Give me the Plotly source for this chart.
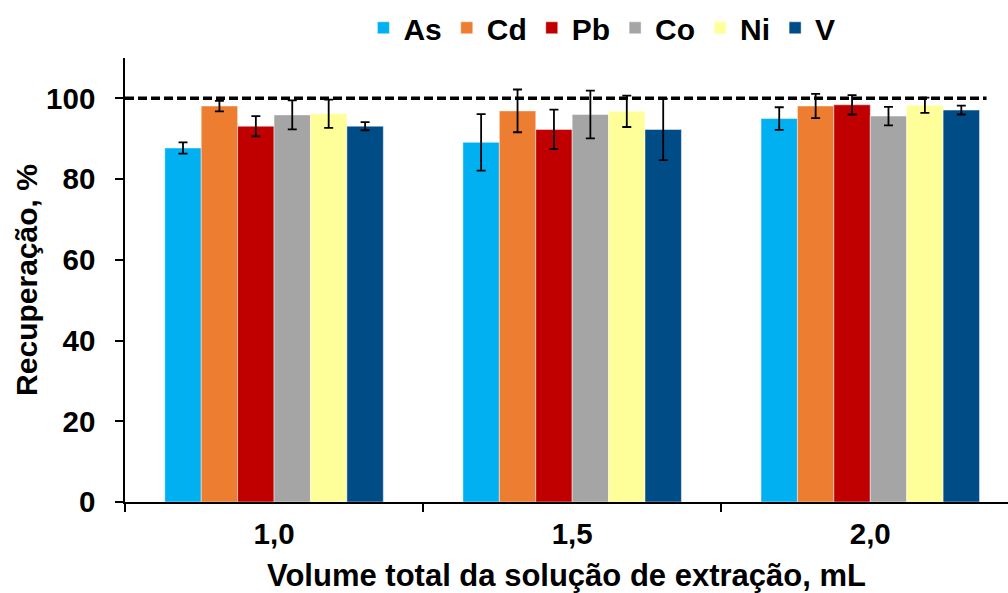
import plotly.graph_objects as go

# Extraction solution volumes (mL) and analytes
volumes = ["1,0", "1,5", "2,0"]
elements = ["As", "Cd", "Pb", "Co", "Ni", "V"]
colors = ["#00B0F0", "#ED7D31", "#C00000", "#A5A5A5", "#FFFF99", "#004C86"]

# Mean recoveries (%) per element, for each volume
rec_as = [87.7, 89.1, 95.0]
rec_cd = [98.1, 96.9, 98.1]
rec_pb = [93.1, 92.3, 98.4]
rec_co = [95.9, 96.0, 95.6]
rec_ni = [96.2, 96.8, 98.3]
rec_v = [93.1, 92.3, 97.1]

# Standard deviations (%)
sd_as = [1.4, 7.0, 2.8]
sd_cd = [1.3, 5.3, 3.0]
sd_pb = [2.5, 4.9, 2.4]
sd_co = [3.6, 5.9, 2.3]
sd_ni = [3.5, 3.9, 1.9]
sd_v = [1.0, 7.6, 1.1]

recoveries = [rec_as, rec_cd, rec_pb, rec_co, rec_ni, rec_v]
deviations = [sd_as, sd_cd, sd_pb, sd_co, sd_ni, sd_v]

y_ticks = [0, 20, 40, 60, 80, 100]
reference_level = 100

FONT = "Liberation Sans, Arial, sans-serif"

fig = go.Figure()
for name, col, rec, sd in zip(elements, colors, recoveries, deviations):
    fig.add_trace(go.Bar(
        name=name,
        x=volumes,
        y=rec,
        marker=dict(color=col, line=dict(color="rgba(255,255,255,0.45)", width=1)),
        error_y=dict(type="data", array=sd, visible=True,
                     color="#000000", thickness=1.8, width=4.5),
    ))

# 100 % reference line
fig.add_shape(type="line", xref="x", yref="y",
              x0=-0.5, x1=2.39, y0=reference_level, y1=reference_level,
              line=dict(color="#000000", width=3.5, dash="9px,4px"))

fig.update_layout(
    width=1008, height=593,
    margin=dict(l=125, r=0, t=58, b=91),
    paper_bgcolor="white", plot_bgcolor="white",
    barmode="group", bargap=0.267, bargroupgap=0,
    font=dict(family=FONT, size=30, color="#000000"),
    showlegend=True,
    legend=dict(orientation="h", x=0.27, xanchor="left",
                y=1.068, yanchor="middle",
                font=dict(family=FONT, size=30, color="#000000", weight="bold"),
                itemwidth=30, traceorder="normal", bgcolor="rgba(0,0,0,0)"),
    xaxis=dict(
        range=[-0.5, 2.462], showline=True, linecolor="#000000", linewidth=1.5,
        ticks="outside", ticklen=8, tickwidth=1.5, tickcolor="#000000",
        tickson="boundaries", showgrid=False, zeroline=False,
        tickfont=dict(family=FONT, size=29.5, weight="bold"),
        ticklabelstandoff=5,
        title=dict(text="<b>Volume total da solução de extração, mL</b>",
                   font=dict(family=FONT, size=31), standoff=15),
    ),
    yaxis=dict(
        range=[0, 110], tickvals=y_ticks, showline=True, linecolor="#000000",
        linewidth=1.5, ticks="outside", ticklen=8, tickwidth=1.5,
        tickcolor="#000000", showgrid=False, zeroline=False,
        tickfont=dict(family=FONT, size=29.5, weight="bold"),
        ticklabelstandoff=14,
        title=dict(text="<b>Recuperação, %</b>",
                   font=dict(family=FONT, size=30), standoff=0),
    ),
)

fig.write_html("out.html")
